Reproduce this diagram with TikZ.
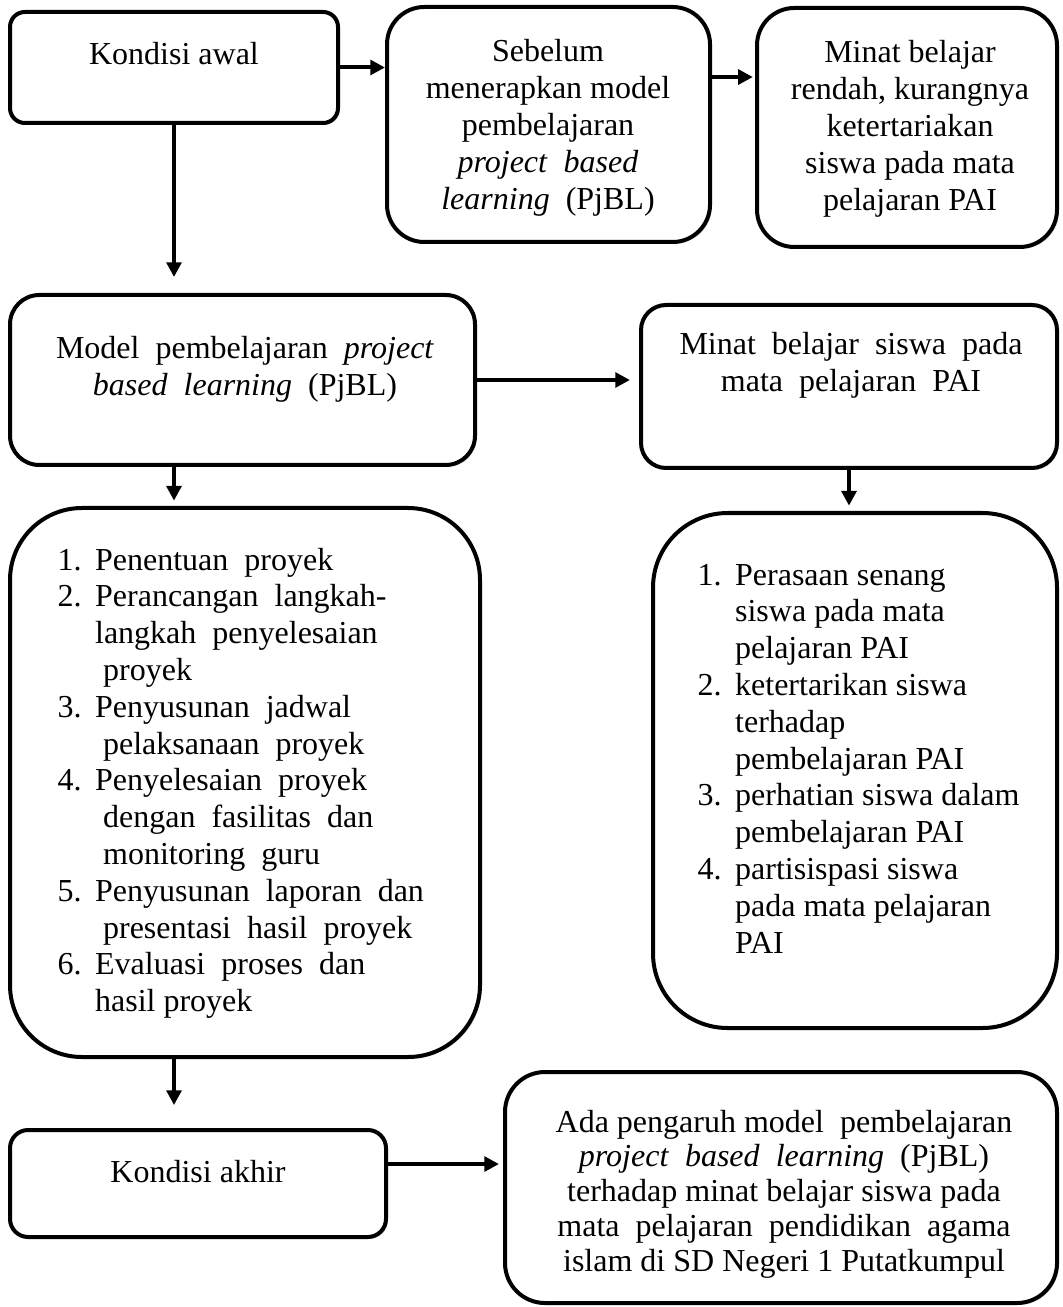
\documentclass[tikz,border=0pt]{standalone}
\usepackage{fontspec}
\setmainfont{Liberation Serif}
\usetikzlibrary{arrows.meta,fit,shadows}
\newcommand{\ctrlines}[1]{\begin{tabular}[t]{@{}c@{}}#1\end{tabular}}
\newcommand{\steplist}[1]{\begin{tabular}[t]{@{}l@{\hspace{5.1pt}}l@{}}#1\end{tabular}}

\begin{document}
\begin{tikzpicture}[x=0.375pt,y=-0.375pt,
  every node/.style={font=\fontsize{12}{13.8}\selectfont, inner sep=0pt},
  box/.style={draw, line width=1.5pt, fill=white, rounded corners=#1,
    drop shadow={shadow xshift=0.7pt,shadow yshift=-0.7pt,opacity=0.3}},
  arr/.style={line width=1.5pt, -{Triangle[length=5.5pt,width=5.5pt]}}]
  \useasboundingbox (0,0) rectangle (1062,1307);

  \node[box=5.6pt, fit={(10,12) (338,123)}] (awal) {};
  \node[anchor=base] (tawal) at (174,65) {Kondisi awal};

  \node[box=14pt, fit={(387,7) (710,242)}] (sebelum) {};
  \node[anchor=base] (tsebelum) at (548,62) {\ctrlines{Sebelum\\ menerapkan model\\ pembelajaran\\
    \textit{project}~~\textit{based}\\ \textit{learning}~~(PjBL)}};

  \node[box=14pt, fit={(757,8) (1057,247)}] (minat) {};
  \node[anchor=base] (tminat) at (910,63) {\ctrlines{Minat belajar\\ rendah, kurangnya\\ ketertariakan\\
    siswa pada mata\\ pelajaran PAI}};

  \node[box=11pt, fit={(10,295) (475,465)}] (model) {};
  \node[anchor=base] (tmodel) at (245,359) {\ctrlines{Model~~pembelajaran~~\textit{project}\\
    \textit{based}~~\textit{learning}~~(PjBL)}};

  \node[box=9.4pt, fit={(641,305) (1057,468)}] (minatpai) {};
  \node[anchor=base] (tminatpai) at (851,355) {\ctrlines{Minat~~belajar~~siswa~~pada\\ mata~~pelajaran~~PAI}};

  \node[box=27pt, fit={(10,508) (480,1057)}] (langkah) {};
  \node[anchor=base west] (tlangkah) at (57,570) {\steplist{
    1. & Penentuan~~proyek\\
    2. & Perancangan~~langkah-\\
       & langkah~~penyelesaian\\
       & \hspace{3pt}proyek\\
    3. & Penyusunan~~jadwal\\
       & \hspace{3pt}pelaksanaan~~proyek\\
    4. & Penyelesaian~~proyek\\
       & \hspace{3pt}dengan~~fasilitas~~dan\\
       & \hspace{3pt}monitoring~~guru\\
    5. & Penyusunan~~laporan~~dan\\
       & \hspace{3pt}presentasi~~hasil~~proyek\\
    6. & Evaluasi~~proses~~dan\\
       & hasil proyek}};

  \node[box=28pt, fit={(653,513) (1057,1028)}] (indikator) {};
  \node[anchor=base west] (tindikator) at (697,585) {\steplist{
    1. & Perasaan senang\\
       & siswa pada mata\\
       & pelajaran PAI\\
    2. & ketertarikan siswa\\
       & terhadap\\
       & pembelajaran PAI\\
    3. & perhatian siswa dalam\\
       & pembelajaran PAI\\
    4. & partisispasi siswa\\
       & pada mata pelajaran\\
       & PAI}};

  \node[box=6.8pt, fit={(10,1130) (386,1237)}] (akhir) {};
  \node[anchor=base] (takhir) at (198,1182) {Kondisi akhir};

  \node[box=15pt, fit={(505,1072) (1057,1303)}] (pengaruh) {};
  \node[anchor=base, font=\fontsize{12}{13.1}\selectfont] (tpengaruh) at (784,1132) {\ctrlines{
    Ada pengaruh model~~pembelajaran\\
    \textit{project}~~\textit{based}~~\textit{learning}~~(PjBL)\\
    terhadap minat belajar siswa pada\\
    mata~~pelajaran~~pendidikan~~agama\\
    islam di SD Negeri 1 Putatkumpul}};

  \coordinate (bc) at ([yshift=17.8pt]sebelum.east);
  \coordinate (hi) at ([yshift=7.3pt]akhir.east);
  \draw[arr] (awal.east) -- (awal.east -| sebelum.west);
  \draw[arr, shorten >=0.8pt] (bc) -- (bc -| minat.west);
  \draw[arr, shorten >=6pt] (awal.south) -- (awal.south |- model.north);
  \draw[arr, shorten >=3.4pt] (model.east) -- (model.east -| minatpai.west);
  \draw[arr, shorten >=2pt] (awal.south |- model.south) -- (awal.south |- langkah.north);
  \draw[arr, shorten >=2pt] (minatpai.south) -- (minatpai.south |- indikator.north);
  \draw[arr, shorten >=8.6pt] (awal.south |- langkah.south) -- (awal.south |- akhir.north);
  \draw[arr, shorten >=1.5pt] (hi) -- (hi -| pengaruh.west);
\end{tikzpicture}
\end{document}
